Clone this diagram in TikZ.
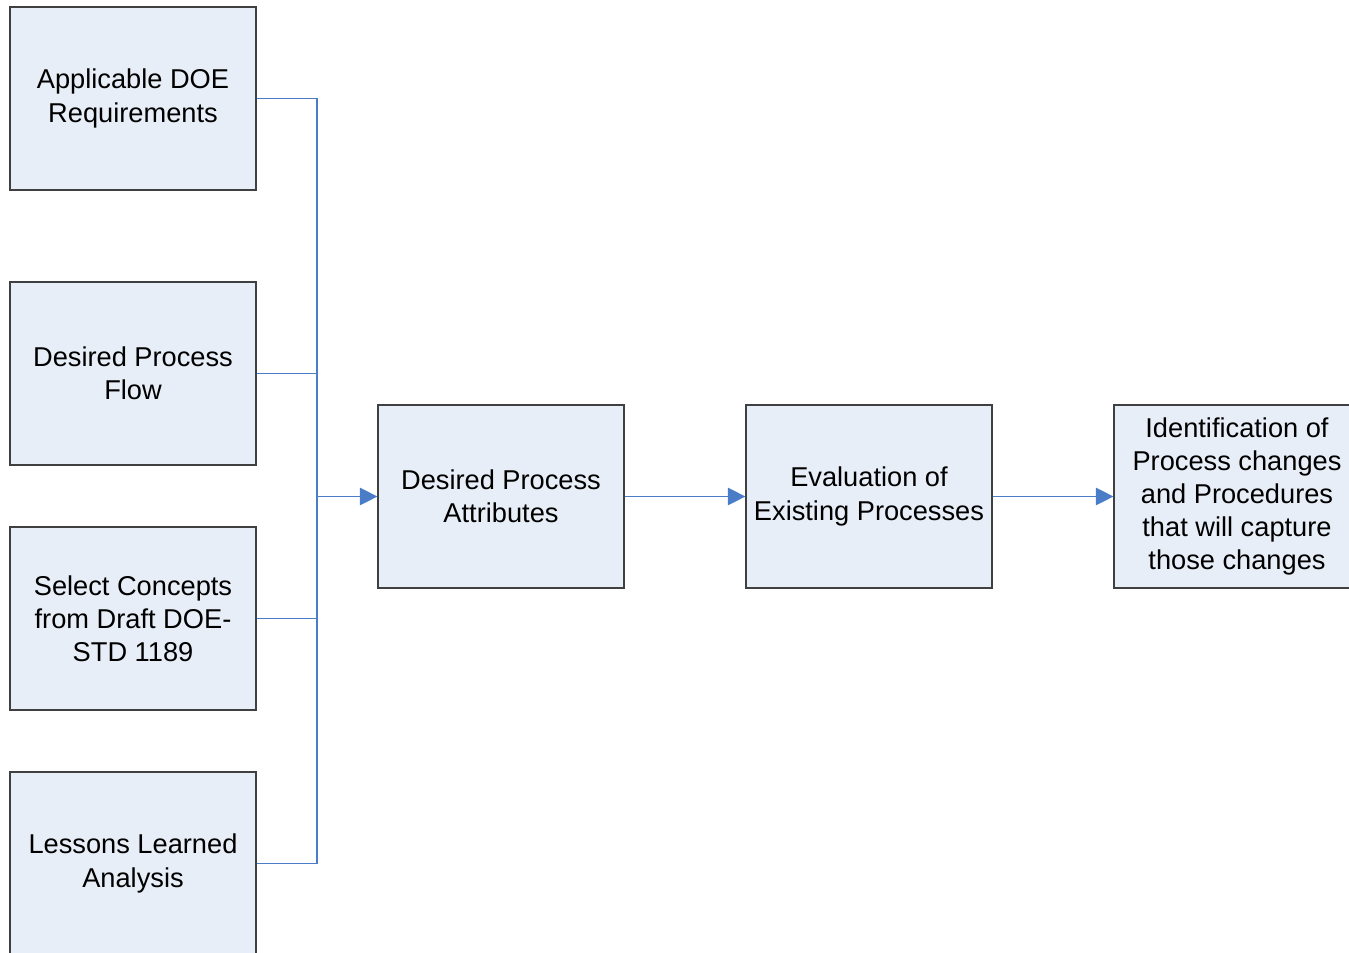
\documentclass[tikz,border=0pt]{standalone}
\usepackage{fontspec}
\setmainfont{Liberation Sans}
\usepackage{tikz}
\usetikzlibrary{shapes,arrows.meta,positioning}

\definecolor{boxfill}{HTML}{E8EEF7}
\definecolor{boxline}{HTML}{404040}
\definecolor{linkblue}{HTML}{4A7CC7}

\begin{document}
\begin{tikzpicture}[x=0.02cm,y=-0.02cm,
    stage/.style={rectangle,fill=boxfill,draw=boxline,line width=0.7pt,
        minimum width=4.92cm,minimum height=3.66cm,inner sep=0pt,align=center,
        font=\fontsize{15.5}{18.9}\selectfont},
    link/.style={draw=linkblue,line width=0.6pt},
    >={Triangle[length=10pt,width=10pt]}]
    \useasboundingbox (0,0) rectangle (1349,953);

    % inputs on the left
    \node (req) [stage] at (133,98.5) {Applicable DOE\\Requirements};
    \node (flow) [stage] at (133,373.5) {Desired Process\\Flow};
    \node (concepts) [stage] at (133,618.5) {Select Concepts\\from Draft DOE-\\STD 1189};
    \node (lessons) [stage] at (133,863.5) {Lessons Learned\\Analysis};

    % main chain
    \node (attrib) [stage] at (501,496.5) {Desired Process\\Attributes};
    \node (eval) [stage] at (869,496.5) {Evaluation of\\Existing Processes};
    \node (ident) [stage] at (1237,496.5) {Identification of\\Process changes\\and Procedures\\that will capture\\those changes};

    \coordinate (bus) at (317,496.5);
    \foreach \n in {req,flow,concepts,lessons}
        \draw[link] (\n.east) -| (bus);
    \draw[link,->] (bus) -- (attrib.west);
    \draw[link,->] (attrib) -- (eval);
    \draw[link,->] (eval) -- (ident);
\end{tikzpicture}
\end{document}
